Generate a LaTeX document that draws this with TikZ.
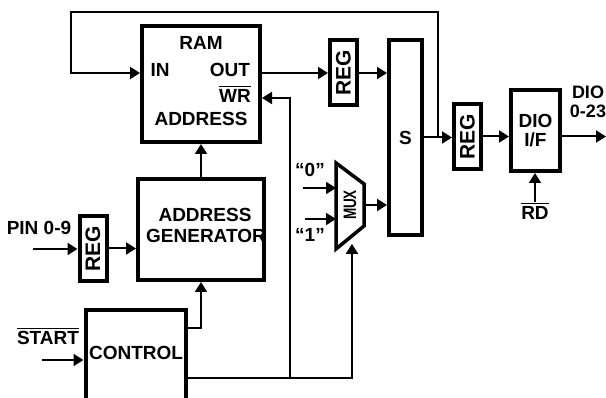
\documentclass[tikz,border=0pt]{standalone}
\usepackage{fontspec}
\usepackage{graphicx}
\setmainfont{Liberation Sans}
\usetikzlibrary{arrows.meta,calc}

% active-low signal name
\newcommand{\negsig}[1]{\leavevmode\setbox0\hbox{#1}%
  \rlap{\raisebox{\dimexpr\ht0+2.5pt\relax}{\rule{\wd0}{1.5pt}}}\box0}

\begin{document}
\begin{tikzpicture}[
  x=1pt,y=-1pt,
  font=\fontsize{19}{21}\selectfont\bfseries,
  block/.style={draw, line width=4pt, inner sep=0pt, align=center},
  regbox/.style={block, minimum width=27pt, minimum height=65pt,
    font=\fontsize{21}{21}\selectfont\bfseries},
  lbl/.style={inner sep=0pt, anchor=base},
  wire/.style={line width=2pt},
  sig/.style={wire, -{Triangle[length=10pt,width=12pt]}}
]

% Canvas
\path[use as bounding box] (0,0) rectangle (606,398);

% Blocks
\node[block, minimum width=118pt, minimum height=116pt] (ram) at (201,84) {};
\node[lbl] (ramname) at (201,50) {RAM};
\node[lbl] (ramin) at (160,77) {IN};
\node[lbl] (ramout) at (230,77) {OUT};
\node[lbl] (ramwr) at (235,103) {\negsig{WR}};
\node[lbl] (ramaddr) at (201,126) {ADDRESS};

\node[block, minimum width=126pt, minimum height=101pt] (agen) at (201,229.5) {};
\node[lbl] (agenname) at (205,222) {ADDRESS};
\node[lbl] (agenkind) at (206,243) {GENERATOR};

\node[block, minimum width=100.5pt, minimum height=100pt] (ctl) at (135.75,360.5) {};
\node[lbl] (ctlname) at (136,360) {CONTROL};

\node[regbox] (pinreg) at (93,248.5) {\rotatebox{90}{REG}};
\node[regbox] (reg1) at (343.5,73) {\rotatebox{90}{REG}};
\node[regbox] (reg2) at (467.5,136.5) {\rotatebox{90}{REG}};

\node[block, minimum width=33pt, minimum height=195pt] (s) at (405.5,137.5) {S};

\node[block, minimum width=49pt, minimum height=81pt, font=\fontsize{19}{19}\selectfont\bfseries]
  (dio) at (535.5,130.5) {DIO\\I/F};

% MUX
\draw[line width=3.5pt] (336,163) coordinate (mux-tl) -- (364,184) coordinate (mux-tr)
  -- (364,226) coordinate (mux-br) -- (336,249) coordinate (mux-bl) -- cycle;
\node[rotate=90, inner sep=0pt, font=\fontsize{18}{18}\selectfont\bfseries] (muxname)
  at (350,205) {\scalebox{.75}[1]{MUX}};
\coordinate (mux-out) at ($(mux-tr)!.5!(mux-br)$);
\coordinate (mux-sel) at ($(mux-bl)!.57!(mux-br)$);

% Free ends
\coordinate (pin) at (33,249);
\coordinate (start) at (42,360);
\coordinate (in0) at (303,188);
\coordinate (in1) at (305,219);
\coordinate (rdsrc) at (535,202);
\coordinate (dout) at (606,136.5);
\coordinate (fbtop) at (71,12);
\coordinate (bus) at (290,378);
\coordinate (ctlup) at ($(ctl.east)+(0,-32.5)$);
\coordinate (ctllo) at ($(ctl.east)+(0,17.5)$);
\coordinate (wr) at ($(ram.east)+(0,14)$);
\coordinate (tap) at ($(s.east)!.5!(s.east -| reg2.west)$);

% Labels
\node[lbl] (pinlbl) at (39,235) {PIN 0-9};
\node[lbl] (startlbl) at (48,345) {\negsig{START}};
\node[lbl] (zerolbl) at (310,177) {“0”};
\node[lbl] (onelbl) at (310,242) {“1”};
\node[lbl] (rdlbl) at (535,220) {\negsig{RD}};
\node[inner sep=0pt, align=center, font=\fontsize{18}{19}\selectfont\bfseries]
  (diolbl) at (588,102) {DIO\\0-23};

% Data path
\draw[sig] (pin) -- (pin -| pinreg.west);
\draw[sig] (pinreg.east) -- (pinreg -| agen.west);
\draw[sig] (agen.north) -- (agen.north |- ram.south);
\draw[sig] (reg1 -| ram.east) -- (reg1.west);
\draw[sig] (reg1.east) -- (reg1 -| s.west);
\draw[sig] (in0) -- (in0 -| mux-tl);
\draw[sig] (in1) -- (in1 -| mux-tl);
\draw[sig] (mux-out) -- (mux-out -| s.west);
\draw[sig] (s.east) -- (s.east -| reg2.west);
\draw[sig] (reg2.east) -- (reg2 -| dio.west);
\draw[sig] (reg2 -| dio.east) -- (dout);
\draw[sig] (rdsrc) -- (rdsrc |- dio.south);

% Feedback into RAM
\draw[sig] (tap) |- (fbtop) |- (reg1 -| ram.west);

% Control
\draw[sig] (start) -- (start -| ctl.west);
\draw[sig] (ctlup) -| (agen.south);
\draw[sig, shorten >=8pt] (ctllo) -| (mux-sel);
\draw[sig] (bus) |- (wr);

\end{tikzpicture}
\end{document}
